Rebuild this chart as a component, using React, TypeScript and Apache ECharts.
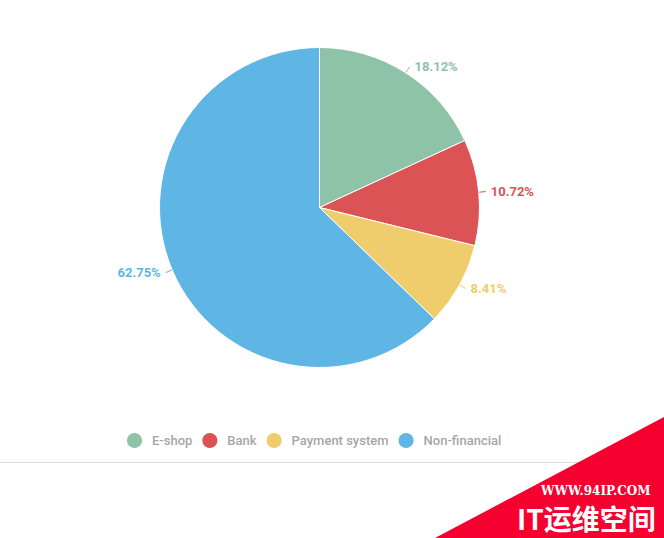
import * as React from "react";
import * as echarts from "echarts";

const CATEGORIES = ["E-shop", "Bank", "Payment system", "Non-financial"];
const VALUES = [18.12, 10.72, 8.41, 62.75];
const COLORS = ["#8FC3A8", "#DB5355", "#EFCC6C", "#5FB6E5"];

export default function App() {
  const ref = React.useRef<HTMLDivElement | null>(null);

  React.useEffect(() => {
    if (!ref.current) return;
    const chart = echarts.init(ref.current, undefined, { renderer: "svg" });
    chart.setOption({
      animation: false,
      backgroundColor: "#fff",
      textStyle: { fontFamily: "Roboto, sans-serif" },
      color: COLORS,
      legend: {
        top: 426,
        left: 120,
        icon: "circle",
        itemWidth: 17,
        itemHeight: 17,
        itemGap: 8,
        textStyle: { color: "#A6A6A6", fontSize: 13, fontWeight: 500, padding: [0, 0, 0, 4] },
        data: CATEGORIES,
      },
      series: [
        {
          type: "pie",
          center: [319.5, 207.5],
          radius: [0, 160],
          clockwise: true,
          startAngle: 90,
          itemStyle: { borderColor: "#fff", borderWidth: 1 },
          label: {
            formatter: "{d}%",
            fontSize: 13,
            fontWeight: "bold",
            color: "inherit",
            padding: [0, 0, 5, 0],
          },
          labelLine: { length: 7, length2: 0, smooth: true, lineStyle: { width: 1 } },
          data: CATEGORIES.map((name, i) => ({ name, value: VALUES[i] })),
        },
      ],
      graphic: [
        {
          type: "line",
          shape: { x1: 0, y1: 462.5, x2: 664, y2: 462.5 },
          style: { stroke: "#D9D9D9", lineWidth: 1 },
        },
        {
          type: "polygon",
          shape: { points: [[435, 538], [664, 417], [664, 538]] },
          style: { fill: "#F5002F" },
        },
        {
          type: "text",
          left: 541,
          top: 485,
          style: {
            text: "WWW.94IP.COM",
            fill: "#fff",
            font: "bold 12px 'DejaVu Serif', serif",
          },
        },
        {
          type: "text",
          left: 517,
          top: 504,
          style: {
            text: "IT运维空间",
            fill: "#fff",
            font: "bold 28px 'Noto Sans CJK SC', sans-serif",
          },
        },
      ],
    });
    return () => chart.dispose();
  }, []);

  return (
    <div
      ref={ref}
      style={{ position: "fixed", left: 0, top: 0, width: 664, height: 538 }}
    />
  );
}
